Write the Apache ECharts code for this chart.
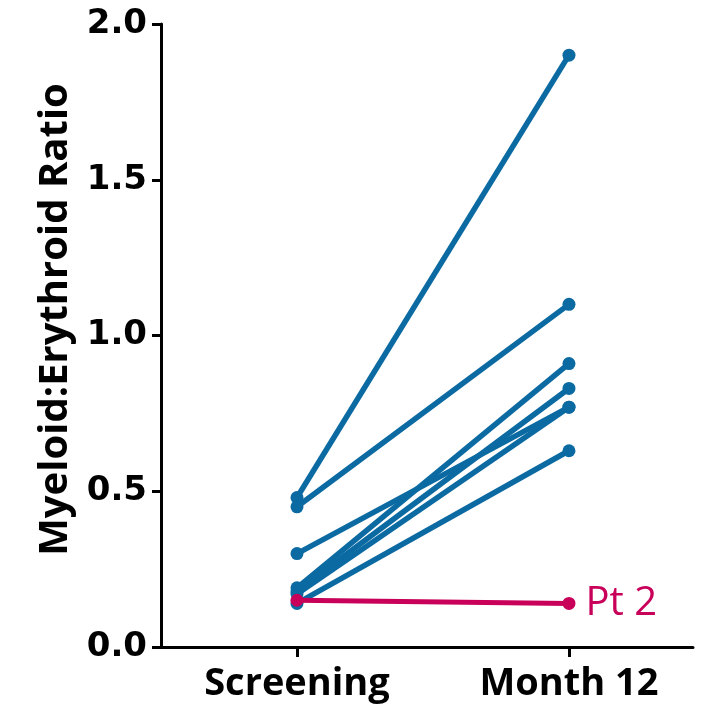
<!DOCTYPE html>
<html>
<head>
<meta charset="utf-8">
<script src="https://cdn.jsdelivr.net/npm/echarts@6/dist/echarts.min.js"></script>
<style>
  html, body { margin: 0; padding: 0; background: #fff; }
  #chart { width: 716px; height: 721px; }
</style>
</head>
<body>
<div id="chart"></div>
<script>
// time points
const timepoints = ["Screening", "Month 12"];
// each patient: value at screening, value at month 12
const screening = [0.48, 0.45, 0.30, 0.19, 0.18, 0.17, 0.14];
const month12 = [1.90, 1.10, 0.77, 0.91, 0.83, 0.77, 0.63];
// highlighted patient
const pt2 = [0.15, 0.14];
const pt2Name = "Pt 2";

const blue = "#0b6aa2";
const pink = "#c8005a";
const font = "Open Sans";

let chart = echarts.init(document.getElementById("chart"));

let series = screening.map((s, i) => {
  return {
    type: "line",
    data: [[0, s], [1, month12[i]]],
    symbol: "circle",
    symbolSize: 13,
    lineStyle: { color: blue, width: 5.5 },
    itemStyle: { color: blue },
    silent: true,
  };
});

series.push({
  type: "line",
  name: pt2Name,
  data: [[0, pt2[0]], [1, pt2[1]]],
  symbol: "circle",
  symbolSize: 13,
  lineStyle: { color: pink, width: 5 },
  itemStyle: { color: pink },
  z: 5,
  label: {
    show: true,
    position: "right",
    distance: 10,
    color: pink,
    fontFamily: font,
    fontSize: 40,
    formatter: (p) => (p.dataIndex === 1 ? pt2Name : ""),
  },
});

chart.setOption({
  animation: false,
  grid: { left: 161, right: 23, top: 24, bottom: 74, containLabel: false },
  xAxis: {
    type: "value",
    min: -0.5,
    max: 1.456,
    splitLine: { show: false },
    axisLine: { onZero: false, lineStyle: { color: "#000", width: 3 } },
    axisTick: {
      show: true,
      length: 10,
      lineStyle: { color: "#000", width: 3 },
      customValues: [0, 1],
    },
    axisLabel: {
      margin: 18,
      color: "#000",
      fontFamily: font,
      fontWeight: "bold",
      fontSize: 38,
      customValues: [0, 1],
      formatter: (v) => timepoints[Math.round(v)] || "",
    },
  },
  yAxis: {
    type: "value",
    min: 0,
    max: 2,
    interval: 0.5,
    name: "Myeloid:Erythroid Ratio",
    nameLocation: "middle",
    nameGap: 85,
    nameTextStyle: {
      color: "#000",
      fontFamily: font,
      fontWeight: "bold",
      fontSize: 40,
      padding: [0, 0, 0, 32],
    },
    splitLine: { show: false },
    axisLine: { show: true, onZero: false, lineStyle: { color: "#000", width: 3 } },
    axisTick: { show: true, length: 9, lineStyle: { color: "#000", width: 3 } },
    axisLabel: {
      margin: 14,
      color: "#000",
      fontFamily: "DejaVu Sans",
      fontWeight: "bold",
      fontSize: 34,
      formatter: (v) => v.toFixed(1),
    },
  },
  series: series,
});
</script>
</body>
</html>
